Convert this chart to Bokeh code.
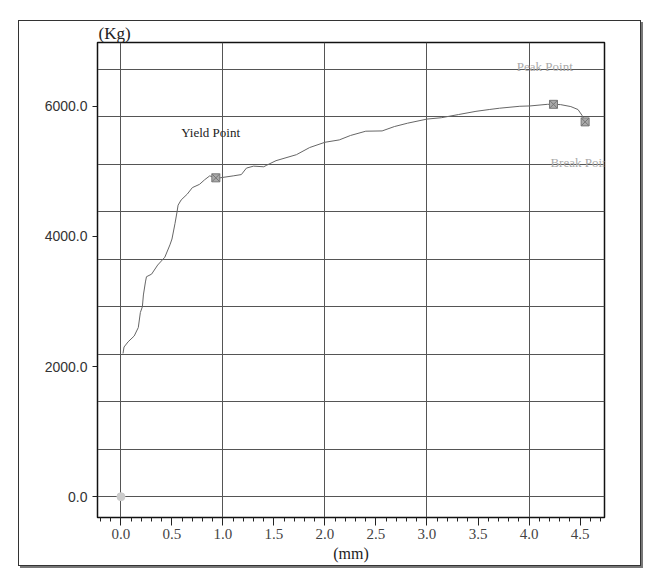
from bokeh.plotting import figure
from bokeh.models import (ColumnDataSource, FixedTicker, NumeralTickFormatter, Title, Spacer)
from bokeh.layouts import row, column
from bokeh.core.properties import value
from bokeh.embed import file_html
from bokeh.resources import INLINE

# ---- data ----
disp_mm = [0.02, 0.03, 0.07, 0.13, 0.17, 0.19, 0.21, 0.22, 0.24, 0.25, 0.30, 0.36, 0.43,
           0.48, 0.50, 0.53, 0.55, 0.56, 0.59, 0.65, 0.70, 0.77, 0.82, 0.87, 0.93, 0.97,
           1.10, 1.18, 1.23, 1.30, 1.40, 1.43, 1.52, 1.72, 1.85, 2.00, 2.14, 2.25, 2.40,
           2.56, 2.68, 2.81, 3.00, 3.14, 3.31, 3.48, 3.61, 3.71, 3.91, 4.01, 4.18, 4.24,
           4.31, 4.41, 4.48, 4.52, 4.55]
load_kg = [2200, 2300, 2380, 2470, 2600, 2830, 2920, 3100, 3300, 3380, 3420, 3560, 3680,
           3870, 3960, 4200, 4380, 4480, 4560, 4650, 4750, 4800, 4870, 4930, 4900, 4900,
           4930, 4950, 5050, 5080, 5070, 5095, 5164, 5256, 5366, 5447, 5483, 5551, 5617,
           5621, 5688, 5740, 5803, 5824, 5873, 5922, 5950, 5970, 6000, 6005, 6030, 6030,
           6025, 5995, 5950, 5860, 5760]

point_x = [0.93, 4.24, 4.55]          # yield, peak, break
point_y = [4900, 6030, 5760]
origin_x = [0.0]
origin_y = [0.0]

label_text = ["Yield Point", "Peak Point", "Break Point"]
label_x = [0.59, 3.88, 4.21]
label_y = [5590, 6615, 5140]
label_color = ["#222222", "#aaaaaa", "#aaaaaa"]

x_ticks = [0.0, 0.5, 1.0, 1.5, 2.0, 2.5, 3.0, 3.5, 4.0, 4.5]
y_ticks = [0, 2000, 4000, 6000]
x_grid = [0, 1, 2, 3, 4]
y_grid = [0, 730, 1460, 2190, 2920, 3650, 4380, 5110, 5840, 6570]

p = figure(width=623, height=546, x_range=(-0.23, 4.74), y_range=(-320, 6980),
           output_backend="svg", toolbar_location=None,
           min_border_left=78, min_border_right=38, min_border_top=20, min_border_bottom=50,
           background_fill_color="white", border_fill_color="white")
p.styles = {"border": "1px solid #333333", "box-shadow": "2px 2px 0 #777777"}

p.title = Title(text="(Kg)", align="left", text_font="Liberation Serif", text_font_size="17px",
                text_font_style="normal", text_color="#222222", standoff=0, offset=1)

p.outline_line_color = "#111111"
p.outline_line_width = 1.5

# grids
p.xgrid.ticker = FixedTicker(ticks=x_grid)
p.ygrid.ticker = FixedTicker(ticks=y_grid)
for g in (p.xgrid, p.ygrid):
    g.grid_line_color = "#555555"
    g.grid_line_width = 1

# x axis
xa = p.xaxis[0]
xa.ticker = FixedTicker(ticks=x_ticks, minor_ticks=[i / 10 for i in range(-2, 48)])
xa.formatter = NumeralTickFormatter(format="0.0")
xa.axis_label = "(mm)"
xa.axis_label_text_font = "Liberation Serif"
xa.axis_label_text_font_size = "16px"
xa.axis_label_text_font_style = "normal"
xa.axis_label_text_color = "#222222"
xa.axis_label_standoff = 3
xa.major_label_text_font = "Liberation Serif"
xa.major_label_text_font_size = "15px"
xa.major_label_text_color = "#444444"
xa.major_label_standoff = 3
xa.major_tick_out = 8
xa.major_tick_in = 0
xa.minor_tick_out = 4
xa.minor_tick_in = 0
xa.axis_line_color = "#111111"
xa.major_tick_line_color = "#222222"
xa.minor_tick_line_color = "#222222"

# y axis
ya = p.yaxis[0]
ya.ticker = FixedTicker(ticks=y_ticks)
ya.formatter = NumeralTickFormatter(format="0.0")
ya.major_label_text_font = "Liberation Sans"
ya.major_label_text_font_size = "14px"
ya.major_label_text_color = "#333333"
ya.major_label_standoff = 5
ya.major_tick_out = 5
ya.major_tick_in = 0
ya.minor_tick_line_color = None
ya.axis_line_color = "#111111"
ya.major_tick_line_color = "#222222"

# curve
p.line(disp_mm, load_kg, line_color="#666666", line_width=1)

# origin point
p.scatter(origin_x, origin_y, marker="circle", size=8, fill_color="#cccccc",
          line_color="#cccccc")

# special points
p.scatter(point_x, point_y, marker="square_x", size=8, fill_color="#aaaaaa",
          line_color="#777777", line_width=1)

# labels
src = ColumnDataSource(dict(x=label_x, y=label_y, t=label_text, c=label_color))
p.text(x="x", y="y", text="t", text_color="c", source=src,
       text_font=value("Liberation Serif"), text_font_size="13px",
       text_align="left", text_baseline="middle")

layout = row(Spacer(width=18), column(Spacer(height=20), p))
open("out.html", "w").write(file_html(layout, INLINE))
